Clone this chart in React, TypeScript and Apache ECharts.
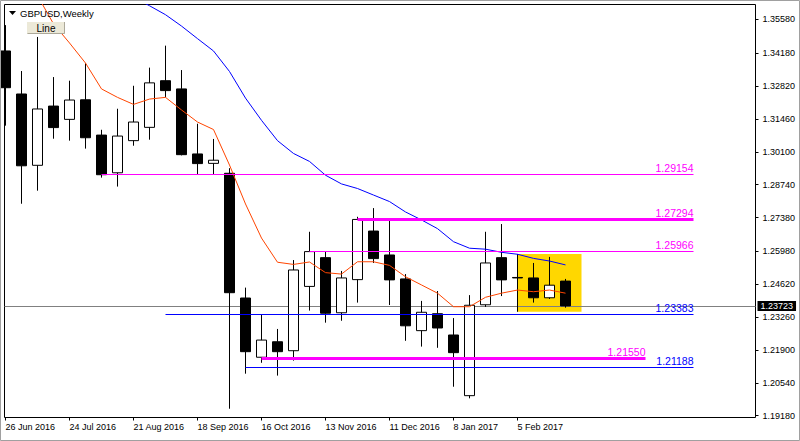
import { useEffect, useRef } from "react";
import * as echarts from "echarts";

// weekly bars, index 0 = week of 26 Jun 2016
const tickBars = [0, 4, 8, 12, 16, 20, 24, 28, 32];
const tickLabels = [
  "26 Jun 2016",
  "24 Jul 2016",
  "21 Aug 2016",
  "18 Sep 2016",
  "16 Oct 2016",
  "13 Nov 2016",
  "11 Dec 2016",
  "8 Jan 2017",
  "5 Feb 2017",
];
const priceTicks = [
  1.3558, 1.3418, 1.3282, 1.3146, 1.301, 1.2874, 1.2738, 1.2598, 1.2462, 1.2326,
  1.219, 1.2054, 1.1918,
];

const opens = [
  1.3427, 1.3249, 1.2954, 1.3199, 1.3144, 1.3225, 1.3079, 1.2923, 1.3056, 1.3111,
  1.3304, 1.327, 1.3001, 1.2962, 1.2921, 1.2405, 1.216, 1.2224, 1.2187, 1.2453,
  1.2572, 1.2344, 1.2481, 1.2682, 1.2583, 1.2484, 1.227, 1.234, 1.2252, 1.2001,
  1.2377, 1.2572, 1.249, 1.2488, 1.2406, 1.2475,
];
const highs = [
  1.3534, 1.3344, 1.3485, 1.3319, 1.3304, 1.3376, 1.3101, 1.3188, 1.3283, 1.3358,
  1.3449, 1.3348, 1.3126, 1.3063, 1.2942, 1.2448, 1.2335, 1.2277, 1.2562, 1.2679,
  1.2597, 1.2517, 1.2741, 1.2777, 1.2728, 1.2504, 1.2393, 1.2434, 1.2322, 1.2417,
  1.2679, 1.2711, 1.2587, 1.255, 1.2575, 1.2484,
];
const lows = [
  1.3118, 1.2795, 1.2849, 1.3064, 1.3056, 1.3023, 1.2903, 1.2866, 1.3035, 1.306,
  1.3235, 1.2995, 1.2918, 1.2918, 1.1947, 1.2092, 1.2137, 1.2084, 1.2146, 1.2353,
  1.2303, 1.2311, 1.2386, 1.255, 1.2376, 1.2228, 1.2204, 1.2199, 1.2038, 1.199,
  1.2368, 1.2413, 1.2348, 1.2386, 1.2401, 1.2365,
];
const closes = [
  1.3275, 1.2952, 1.3187, 1.311, 1.3224, 1.3068, 1.2915, 1.3075, 1.3133, 1.3295,
  1.3263, 1.2998, 1.2961, 1.2975, 1.2427, 1.2183, 1.2231, 1.2183, 1.2521, 1.2597,
  1.2342, 1.2488, 1.273, 1.2568, 1.248, 1.229, 1.2346, 1.2281, 1.2179, 1.2375,
  1.255, 1.248, 1.2488, 1.2406, 1.2458, 1.23723,
];

// moving averages (null = above the window)
const fastMa = [
  null, null, 1.3656, 1.3539, 1.346, 1.3377, 1.327, 1.3235, 1.3206, 1.3228,
  1.3235, 1.3183, 1.3133, 1.3102, 1.2955, 1.2794, 1.2653, 1.2553, 1.2544, 1.2554,
  1.251, 1.2504, 1.2555, 1.2555, 1.254, 1.2493, 1.2459, 1.2425, 1.2369, 1.2369,
  1.2408, 1.2425, 1.2438, 1.2431, 1.2438, 1.2425,
];
const slowMa = [
  null, null, null, null, null, null, null, null, 1.3649, 1.3614,
  1.3577, 1.353, 1.3478, 1.3427, 1.3342, 1.3232, 1.314, 1.3056, 1.3003, 1.297,
  1.2913, 1.2877, 1.2858, 1.2831, 1.2804, 1.2761, 1.2728, 1.2692, 1.2638, 1.2611,
  1.2607, 1.2594, 1.2586, 1.2569, 1.2558, 1.2542,
];

// horizontal levels drawn on the chart
const levelPrices = [1.29154, 1.27294, 1.25966, 1.23383, 1.2155, 1.21188];
const levelStart = [6, 22, 19, 10, 16, 15];
const levelEnd = [43, 43, 43, 43, 40, 43];

const boxBars = [32, 36];
const boxPrices = [1.25871, 1.23484];
const lastPrice = 1.23723;

const MAGENTA = "#ff00ff";
const BLUE = "#0000ff";
const levelColors = [MAGENTA, MAGENTA, MAGENTA, BLUE, MAGENTA, BLUE];
const levelWidths = [1, 3, 1, 1, 3, 1];

const FONT = "Liberation Sans, Arial, sans-serif";

export default function App() {
  const chartRef = useRef<HTMLDivElement>(null);

  useEffect(() => {
    if (!chartRef.current) return;
    document.body.style.margin = "0";
    const chart = echarts.init(chartRef.current, undefined, { renderer: "svg" });

    const candles = opens.map((o, i) => [i, o, closes[i], lows[i], highs[i]]);

    const levelLines = levelPrices.map((p, i) => [
      {
        coord: [levelStart[i], p],
        lineStyle: { color: levelColors[i], width: levelWidths[i], type: "solid" },
        label: {
          show: true,
          position: "insideEndTop",
          formatter: p.toFixed(5),
          color: levelColors[i],
          fontSize: 10.5,
          fontFamily: FONT,
          distance: [0, 1],
        },
      },
      { coord: [levelEnd[i], p] },
    ]);

    chart.setOption({
      animation: false,
      backgroundColor: "#fff",
      grid: {
        left: 4.5,
        right: 44.5,
        top: 4.5,
        bottom: 23.5,
        show: true,
        borderColor: "#000",
        borderWidth: 1,
        backgroundColor: "#fff",
      },
      xAxis: {
        type: "value",
        min: -0.0625,
        max: 46.875,
        splitLine: { show: false },
        axisLine: { show: false, onZero: false },
        axisTick: {
          show: true,
          customValues: tickBars,
          length: 3,
          lineStyle: { color: "#000" },
        },
        axisLabel: {
          customValues: tickBars,
          formatter: (v: number) => tickLabels[tickBars.indexOf(Math.round(v))] ?? "",
          align: "left",
          margin: 5,
          fontSize: 9,
          color: "#000",
          fontFamily: FONT,
        },
      },
      yAxis: {
        type: "value",
        position: "right",
        min: 1.19107,
        max: 1.36192,
        splitLine: { show: false },
        axisLine: { show: false, onZero: false },
        axisTick: {
          show: true,
          customValues: priceTicks,
          length: 3,
          lineStyle: { color: "#000" },
        },
        axisLabel: {
          customValues: priceTicks,
          formatter: (v: number) => v.toFixed(5),
          margin: 7,
          fontSize: 9,
          color: "#000",
          fontFamily: FONT,
        },
      },
      series: [
        {
          type: "custom",
          z: 1,
          silent: true,
          encode: { x: [0, 2], y: [1, 3] },
          data: [[boxBars[0], boxPrices[0], boxBars[1], boxPrices[1]]],
          renderItem: (_params: any, api: any) => {
            const a = api.coord([api.value(0), api.value(1)]);
            const b = api.coord([api.value(2), api.value(3)]);
            return {
              type: "rect",
              shape: { x: a[0], y: a[1], width: b[0] - a[0], height: b[1] - a[1] },
              style: { fill: "#ffd700" },
            };
          },
        },
        {
          type: "candlestick",
          z: 3,
          barWidth: 10,
          encode: { x: 0, y: [1, 2, 3, 4] },
          data: candles,
          itemStyle: {
            color: "#fff",
            color0: "#000",
            borderColor: "#000",
            borderColor0: "#000",
            borderColorDoji: "#000",
            borderWidth: 1,
          },
          markLine: {
            silent: true,
            precision: 5,
            symbol: ["none", "none"],
            data: levelLines,
          },
        },
        {
          type: "line",
          z: 4,
          symbol: "none",
          data: fastMa.map((v, i) => [i, v]),
          lineStyle: { color: "#ff4500", width: 1 },
          markLine: {
            z: 2,
            silent: true,
            precision: 5,
            symbol: ["none", "none"],
            data: [
              {
                yAxis: lastPrice,
                lineStyle: { color: "#808080", width: 1, type: "solid" },
                label: {
                  show: true,
                  position: "end",
                  formatter: lastPrice.toFixed(5),
                  color: "#fff",
                  backgroundColor: "#000",
                  padding: [1, 3, 0, 3],
                  distance: 2,
                  fontSize: 9,
                  fontFamily: FONT,
                },
              },
            ],
          },
        },
        {
          type: "line",
          z: 4,
          symbol: "none",
          data: slowMa.map((v, i) => [i, v]),
          lineStyle: { color: BLUE, width: 1 },
        },
      ],
      graphic: [
        {
          type: "rect",
          z: 100,
          silent: true,
          shape: { x: 0.5, y: 0.5, width: 799, height: 440 },
          style: { fill: "none", stroke: "#a0a0a0", lineWidth: 1 },
        },
        {
          type: "polygon",
          z: 100,
          shape: { points: [[9, 11], [16, 11], [12.5, 15]] },
          style: { fill: "#000" },
        },
        {
          type: "text",
          z: 100,
          x: 20,
          y: 13,
          style: {
            text: "GBPUSD,Weekly",
            fill: "#000",
            font: `9.5px ${FONT}`,
            verticalAlign: "middle",
          },
        },
        {
          type: "rect",
          z: 100,
          shape: { x: 27, y: 22, width: 38, height: 12 },
          style: { fill: "#ece9d8" },
        },
        {
          type: "polyline",
          z: 101,
          shape: { points: [[27.5, 33.5], [64.5, 33.5], [64.5, 22]] },
          style: { stroke: "#aca899", lineWidth: 1, fill: "none" },
        },
        {
          type: "text",
          z: 101,
          x: 46,
          y: 28,
          style: {
            text: "Line",
            fill: "#000",
            font: `10px ${FONT}`,
            align: "center",
            verticalAlign: "middle",
          },
        },
      ],
    });

    return () => {
      chart.dispose();
    };
  }, []);

  return <div ref={chartRef} style={{ width: 800, height: 441 }} />;
}
